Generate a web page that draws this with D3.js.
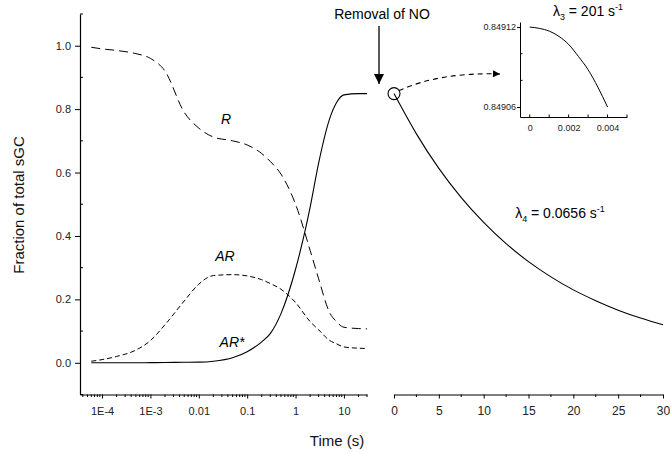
<!DOCTYPE html>
<html>
<head>
<meta charset="utf-8">
<script src="https://cdn.jsdelivr.net/npm/d3@7"></script>
<style>
  body { margin: 0; background: #fff; }
  svg text { font-family: "Liberation Sans", Arial, sans-serif; }
  .axis path, .axis line { stroke: #000; }
  .axis text { fill: #222; }
</style>
</head>
<body>
<svg id="chart" width="671" height="453"></svg>
<script>
// time course while NO is present (log axis, s)
var times = [6e-5, 1e-4, 2e-4, 5e-4, 1e-3, 2e-3, 5e-3, 0.01, 0.02, 0.05, 0.1, 0.2, 0.3, 0.5, 1, 2, 3, 5, 7, 10, 20, 30];
var rValues = [0.995, 0.99, 0.985, 0.975, 0.96, 0.92, 0.79, 0.74, 0.712, 0.70, 0.687, 0.66, 0.635, 0.595, 0.50, 0.355, 0.265, 0.16, 0.13, 0.112, 0.108, 0.107];
var arValues = [0.005, 0.01, 0.02, 0.04, 0.07, 0.12, 0.195, 0.248, 0.275, 0.278, 0.274, 0.262, 0.25, 0.232, 0.19, 0.13, 0.104, 0.071, 0.06, 0.05, 0.046, 0.045];
var arStarValues = [0, 0, 0, 0, 0.0005, 0.001, 0.0015, 0.002, 0.005, 0.016, 0.035, 0.066, 0.092, 0.155, 0.295, 0.49, 0.63, 0.767, 0.82, 0.845, 0.849, 0.849];

// after removal of NO (linear axis, s)
var decayTimes = [0, 2.5, 5, 7.5, 10, 12.5, 15, 17.5, 20, 22.5, 25, 27.5, 30];
var decayValues = [0.849, 0.722, 0.613, 0.521, 0.443, 0.376, 0.319, 0.271, 0.230, 0.196, 0.166, 0.141, 0.120];

// inset: first 4 ms after removal
var insetTimes = [0, 0.0005, 0.001, 0.0015, 0.002, 0.0025, 0.003, 0.0035, 0.004];
var insetValues = [0.84912, 0.849119, 0.849117, 0.849113, 0.849107, 0.849098, 0.849088, 0.849075, 0.84906];

var logTicks = [1e-4, 1e-3, 0.01, 0.1, 1, 10];
var logTickLabels = ["1E-4", "1E-3", "0.01", "0.1", "1", "10"];
var linTicks = [0, 5, 10, 15, 20, 25, 30];
var yTicks = [0, 0.2, 0.4, 0.6, 0.8, 1.0];
var insetXTicks = [0, 0.002, 0.004];
var insetYTicks = [0.84906, 0.84912];

var svg = d3.select('#chart');

var y = d3.scaleLinear().domain([-0.1, 1.1]).range([394.5, 14]);
var xLog = d3.scaleLog().domain([3.5e-5, 30]).range([80, 367]);
var xLin = d3.scaleLinear().domain([0, 30]).range([394, 663]);

// y axis
var yAxis = svg.append("g")
    .attr("class", "axis")
    .attr("transform", "translate(80,0)")
    .call(d3.axisLeft(y).tickValues(yTicks).tickFormat(d3.format(".1f")).tickSize(5).tickSizeOuter(0));
yAxis.selectAll("text").attr("font-size", 11).attr("x", -9);
yAxis.selectAll(".minor")
    .data([-0.1, 0.1, 0.3, 0.5, 0.7, 0.9, 1.1])
    .enter().append("line")
    .attr("class", "minor")
    .attr("x1", 0).attr("x2", 3)
    .attr("y1", function(d) { return y(d); })
    .attr("y2", function(d) { return y(d); })
    .attr("stroke", "#000");

// log x axis
var xLogAxis = svg.append("g")
    .attr("class", "axis")
    .attr("transform", "translate(0,394.5)")
    .call(d3.axisBottom(xLog).tickValues(logTicks)
        .tickFormat(function(d, i) { return logTickLabels[i]; })
        .tickSize(4).tickSizeOuter(0));
xLogAxis.selectAll("text").attr("font-size", 11).attr("dy", "1.2em");
xLogAxis.selectAll(".minor")
    .data(xLog.ticks().filter(function(d) { return logTicks.indexOf(d) < 0; }))
    .enter().append("line")
    .attr("class", "minor")
    .attr("x1", function(d) { return xLog(d); })
    .attr("x2", function(d) { return xLog(d); })
    .attr("y1", 0).attr("y2", 2.5)
    .attr("stroke", "#000");

// linear x axis
var xLinAxis = svg.append("g")
    .attr("class", "axis")
    .attr("transform", "translate(0,394.5)")
    .call(d3.axisBottom(xLin).tickValues(linTicks).tickSize(4).tickSizeOuter(0));
xLinAxis.selectAll("text").attr("font-size", 12).attr("dy", "1.1em");
xLinAxis.selectAll(".minor")
    .data([2.5, 7.5, 12.5, 17.5, 22.5, 27.5])
    .enter().append("line")
    .attr("class", "minor")
    .attr("x1", function(d) { return xLin(d); })
    .attr("x2", function(d) { return xLin(d); })
    .attr("y1", 0).attr("y2", 2.5)
    .attr("stroke", "#000");

svg.selectAll(".axis .domain").attr("stroke-width", 1.2);

// axis titles
svg.append("text")
    .attr("transform", "translate(24,205) rotate(-90)")
    .attr("text-anchor", "middle")
    .attr("font-size", 15)
    .attr("fill", "#111")
    .text("Fraction of total sGC");

svg.append("text")
    .attr("x", 337).attr("y", 446)
    .attr("text-anchor", "middle")
    .attr("font-size", 15)
    .attr("fill", "#111")
    .text("Time (s)");

// curves
function logLine(vals) {
    return d3.line()
        .x(function(d, i) { return xLog(times[i]); })
        .y(function(d) { return y(d); })
        .curve(d3.curveMonotoneX)(vals);
}

svg.append("path")
    .attr("d", logLine(rValues))
    .attr("fill", "none").attr("stroke", "#000").attr("stroke-width", 1)
    .attr("stroke-dasharray", "9,5");

svg.append("path")
    .attr("d", logLine(arValues))
    .attr("fill", "none").attr("stroke", "#000").attr("stroke-width", 1)
    .attr("stroke-dasharray", "5,3");

svg.append("path")
    .attr("d", logLine(arStarValues))
    .attr("fill", "none").attr("stroke", "#000").attr("stroke-width", 1.1);

var decayLine = d3.line()
    .x(function(d, i) { return xLin(decayTimes[i]); })
    .y(function(d) { return y(d); })
    .curve(d3.curveMonotoneX);

svg.append("path")
    .attr("d", decayLine(decayValues))
    .attr("fill", "none").attr("stroke", "#000").attr("stroke-width", 1.1);

// curve labels
var curveLabels = [["R", 226, 124], ["AR", 225, 261], ["AR*", 232, 347]];
svg.selectAll(".clabel")
    .data(curveLabels)
    .enter().append("text")
    .attr("class", "clabel")
    .attr("x", function(d) { return d[1]; })
    .attr("y", function(d) { return d[2]; })
    .attr("text-anchor", "middle")
    .attr("font-size", 14)
    .attr("font-style", "italic")
    .text(function(d) { return d[0]; });

// arrow markers
var defs = svg.append("defs");
defs.append("marker")
    .attr("id", "head")
    .attr("viewBox", "0 0 10 10")
    .attr("refX", 10).attr("refY", 5)
    .attr("markerWidth", 10).attr("markerHeight", 10)
    .attr("markerUnits", "userSpaceOnUse")
    .attr("orient", "auto")
  .append("path")
    .attr("d", "M0,0 L10,5 L0,10 Z")
    .attr("fill", "#000");
defs.append("marker")
    .attr("id", "headSmall")
    .attr("viewBox", "0 0 10 10")
    .attr("refX", 10).attr("refY", 5)
    .attr("markerWidth", 8).attr("markerHeight", 7)
    .attr("markerUnits", "userSpaceOnUse")
    .attr("orient", "auto")
  .append("path")
    .attr("d", "M0,0 L10,5 L0,10 Z")
    .attr("fill", "#000");

// removal of NO
svg.append("text")
    .attr("x", 382).attr("y", 19)
    .attr("text-anchor", "middle")
    .attr("font-size", 14)
    .text("Removal of NO");
svg.append("line")
    .attr("x1", 379).attr("x2", 379)
    .attr("y1", 26).attr("y2", 84)
    .attr("stroke", "#000").attr("stroke-width", 1.3)
    .attr("marker-end", "url(#head)");

// circle at start of decay
var cx = xLin(decayTimes[0]), cy = y(decayValues[0]);
svg.append("circle")
    .attr("cx", cx).attr("cy", cy).attr("r", 6)
    .attr("fill", "none").attr("stroke", "#000").attr("stroke-width", 1.1);

// dashed arrow to inset
svg.append("path")
    .attr("d", "M" + (cx + 5) + "," + (cy - 3) + " Q440,72 500,74")
    .attr("fill", "none").attr("stroke", "#000").attr("stroke-width", 1.1)
    .attr("stroke-dasharray", "5,4")
    .attr("marker-end", "url(#headSmall)");

// inset
var ix = d3.scaleLinear().domain([-0.0005, 0.005]).range([520, 627]);
var iy = d3.scaleLinear().domain([0.8490525, 0.8491238]).range([117, 22]);

var insetX = svg.append("g")
    .attr("class", "axis")
    .attr("transform", "translate(0,117)")
    .call(d3.axisBottom(ix).tickValues(insetXTicks).tickFormat(function(d) { return d === 0 ? "0" : d3.format(".3f")(d); })
        .tickSize(0).tickSizeOuter(0));
insetX.selectAll("text").attr("font-size", 9).attr("dy", "1.2em");
insetX.selectAll(".tk")
    .data([0, 0.001, 0.002, 0.003, 0.004, 0.005])
    .enter().append("line")
    .attr("class", "tk")
    .attr("x1", function(d) { return ix(d); })
    .attr("x2", function(d) { return ix(d); })
    .attr("y1", 0).attr("y2", -2.5)
    .attr("stroke", "#000");

var insetY = svg.append("g")
    .attr("class", "axis")
    .attr("transform", "translate(520,0)")
    .call(d3.axisLeft(iy).tickValues(insetYTicks).tickFormat(d3.format(".5f")).tickSize(3).tickSizeOuter(0));
insetY.selectAll("text").attr("font-size", 9).attr("x", -4);
insetY.selectAll(".tk")
    .data([0.84908, 0.8491])
    .enter().append("line")
    .attr("class", "tk")
    .attr("x1", 0).attr("x2", 2.5)
    .attr("y1", function(d) { return iy(d); })
    .attr("y2", function(d) { return iy(d); })
    .attr("stroke", "#000");

svg.append("path")
    .attr("d", d3.line()
        .x(function(d, i) { return ix(insetTimes[i]); })
        .y(function(d) { return iy(d); })
        .curve(d3.curveMonotoneX)(insetValues))
    .attr("fill", "none").attr("stroke", "#000").attr("stroke-width", 1);

// rate constants
var l3 = svg.append("text")
    .attr("x", 588).attr("y", 16)
    .attr("text-anchor", "middle")
    .attr("font-size", 14);
l3.append("tspan").text("\u03bb");
l3.append("tspan").attr("font-size", 9).attr("dy", 4).text("3");
l3.append("tspan").attr("dy", -4).text(" = 201 s");
l3.append("tspan").attr("font-size", 9).attr("dy", -6).text("-1");

var l4 = svg.append("text")
    .attr("x", 560).attr("y", 218)
    .attr("text-anchor", "middle")
    .attr("font-size", 14);
l4.append("tspan").text("\u03bb");
l4.append("tspan").attr("font-size", 9).attr("dy", 4).text("4");
l4.append("tspan").attr("dy", -4).text(" = 0.0656 s");
l4.append("tspan").attr("font-size", 9).attr("dy", -6).text("-1");
</script>
</body>
</html>
